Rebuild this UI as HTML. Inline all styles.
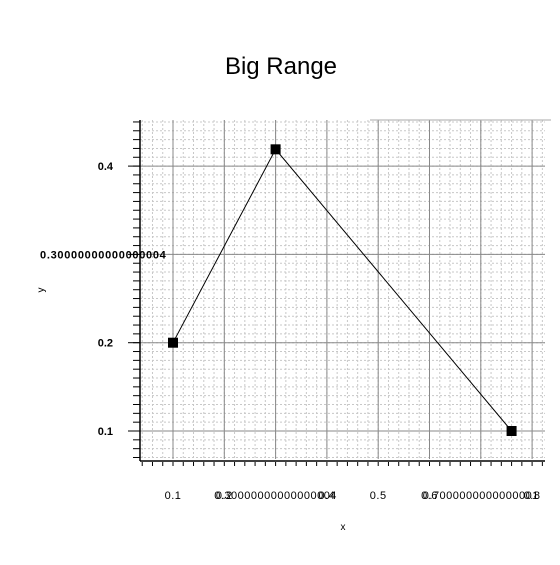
<!DOCTYPE html>
<html><head><meta charset="utf-8"><style>
body{margin:0;background:#fff;width:560px;height:560px;overflow:hidden}
svg{font-family:"Liberation Sans",sans-serif}
</style></head><body>
<svg id="c" width="560" height="560">
<text x="281" y="74" font-size="24" text-anchor="middle">Big Range</text>
<text x="343" y="530" font-size="10" text-anchor="middle">x</text>
<text x="44" y="290" font-size="10" text-anchor="middle" transform="rotate(-90 44 290)">y</text>
<g id="grid"></g>
<g id="axes"></g>
<g id="series"></g>
</svg>
<script>
const xs=[0.1,0.3,0.76];
const ys=[0.2,0.419,0.1];
const xTicks=[0.1,0.2,0.30000000000000004,0.4,0.5,0.6,0.7000000000000001,0.8];
const xTickLabels=["0.1","0.2","0.30000000000000004","0.4","0.5","0.6","0.7000000000000001","0.8"];
const yTicks=[0.1,0.2,0.30000000000000004,0.4];
const yTickLabels=["0.1","0.2","0.30000000000000004","0.4"];
const L=140,R=545,T=120,B=459;
const X=v=>173+(v-0.1)*513;
const Y=v=>431-(v-0.1)*883;
const NS="http://www.w3.org/2000/svg";
function mk(p,t,a){const e=document.createElementNS(NS,t);for(const k in a)e.setAttribute(k,a[k]);p.appendChild(e);return e;}
const g=document.getElementById('grid'),ax=document.getElementById('axes'),s=document.getElementById('series');
mk(g,'rect',{x:L,y:T,width:R-L,height:B-T,fill:'#fff'});
for(let v=0.04;v<=0.86;v+=0.02){const x=X(v);if(x<L||x>R)continue;
 const l=mk(g,'line',{x1:x,x2:x,y1:T,y2:B,stroke:'#c8c8c8','stroke-dasharray':'2,2','stroke-width':1});
 
 }
for(let v=0.06;v<=0.46;v+=0.01){const y=Y(v);if(y<T||y>B)continue;
 const l=mk(g,'line',{x1:L,x2:R,y1:y,y2:y,stroke:'#c8c8c8','stroke-dasharray':'2,2','stroke-width':1});
 
 }
xTicks.forEach((v,i)=>{const x=X(v);
 const l=mk(g,'line',{x1:x,x2:x,y1:T,y2:B,stroke:'#888','stroke-width':1});
 
 
 const t=mk(ax,'text',{x:x,y:499,'font-size':11,'letter-spacing':0.5,'text-anchor':'middle'});t.textContent=xTickLabels[i];
 
 });
yTicks.forEach((v,i)=>{const y=Y(v);
 const l=mk(g,'line',{x1:L,x2:R,y1:y,y2:y,stroke:'#888','stroke-width':1});
 
 
 mk(ax,'line',{x1:128,x2:L,y1:y,y2:y,stroke:'#000'});
 const t=mk(ax,'text',{x:113,y:y+4,'font-size':11,'font-weight':'bold','text-anchor':'end'});t.textContent=yTickLabels[i];
 if(yTickLabels[i].length>6){t.setAttribute('text-anchor','start');t.setAttribute('x',40);t.setAttribute('letter-spacing',0.7);}
 
 });
mk(ax,'line',{x1:370,x2:551,y1:T,y2:T,stroke:'#aaa'});
for(let v=0.04;v<=0.86;v+=0.02){const x=X(v);if(x<L||x>R)continue;mk(ax,'line',{x1:x,x2:x,y1:462,y2:466,stroke:'#000'});}
for(let v=0.06;v<=0.46;v+=0.01){const y=Y(v);if(y<T||y>B)continue;mk(ax,'line',{x1:133,x2:L,y1:y,y2:y,stroke:'#000'});}
mk(ax,'line',{x1:L,x2:L,y1:T,y2:B+2,stroke:'#000','stroke-width':1.5});
mk(ax,'line',{x1:L,x2:R,y1:461,y2:461,stroke:'#000','stroke-width':1.5});
const pts=xs.map((v,i)=>X(v)+','+Y(ys[i])).join(' ');
const pl=mk(s,'polyline',{points:pts,fill:'none',stroke:'#000','stroke-width':1});


xs.forEach((v,i)=>{const r=mk(s,'rect',{x:X(v)-5,y:Y(ys[i])-5,width:10,height:10,fill:'#000'});
 
 });
</script>
</body></html>
